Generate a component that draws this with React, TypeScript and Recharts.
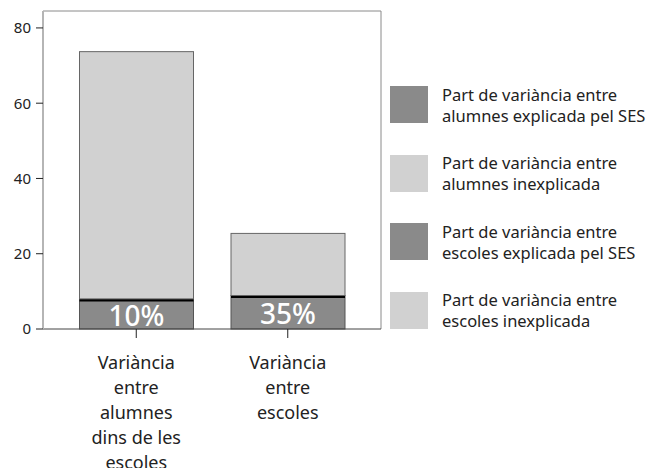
import React from "react";
import { Bar, BarChart, CartesianGrid, LabelList, Legend, XAxis, YAxis } from "recharts";

const DARK = "#8a8a8a";
const LIGHT = "#d1d1d1";
const FONT = "'Noto Sans', sans-serif";

const categories = ["Variància entre alumnes dins de les escoles", "Variància entre escoles"];
const categoryLines = [
  ["Variància", "entre", "alumnes", "dins de les", "escoles"],
  ["Variància", "entre", "escoles"],
];
const alumnesExplained = [8.0, 0];
const alumnesUnexplained = [65.7, 0];
const escolesExplained = [0, 8.9];
const escolesUnexplained = [0, 16.5];
const shareLabels = ["10%", "35%"];
const yTicks = [0, 20, 40, 60, 80];

const seriesNames = [
  "Part de variància entre alumnes explicada pel SES",
  "Part de variància entre alumnes inexplicada",
  "Part de variància entre escoles explicada pel SES",
  "Part de variància entre escoles inexplicada",
];

const data = categories.map((c, i) => ({
  category: c,
  alumExp: alumnesExplained[i],
  alumUnexp: alumnesUnexplained[i],
  escExp: escolesExplained[i],
  escUnexp: escolesUnexplained[i],
  share: shareLabels[i],
}));

// dark segment with the thick black line on top
function ExplainedShape(props: any) {
  const { x, y, width, height, fill } = props;
  if (!height || height <= 0) return <g />;
  return (
    <g>
      <rect x={x} y={y} width={width} height={height} fill={fill} stroke="#555" strokeWidth={1} />
      <line x1={x} x2={x + width} y1={y + 1} y2={y + 1} stroke="#000" strokeWidth={3} />
    </g>
  );
}

function LightShape(props: any) {
  const { x, y, width, height, fill } = props;
  if (!height || height <= 0) return <g />;
  return <rect x={x} y={y} width={width} height={height} fill={fill} stroke="#666" strokeWidth={1} />;
}

function ShareLabel(props: any) {
  const { x, y, width, height, value } = props;
  if (!height || height <= 0) return null;
  return (
    <text
      x={x + width / 2}
      y={y + height / 2 + 1}
      textAnchor="middle"
      dominantBaseline="central"
      fill="#fff"
      fontSize={28}
      fontWeight={500}
      fontFamily={FONT}
    >
      {value}
    </text>
  );
}

function CategoryTick(props: any) {
  const { x, y, index } = props;
  const lines = categoryLines[index] || [];
  return (
    <text x={x} y={y} textAnchor="middle" fill="#222" fontSize={18} fontFamily={FONT}>
      {lines.map((l, i) => (
        <tspan key={i} x={x} dy={i === 0 ? 29 : 25}>
          {l}
        </tspan>
      ))}
    </text>
  );
}

function LegendBox(props: any) {
  const items = props.payload || [];
  return (
    <div style={{ fontFamily: FONT }}>
      {items.map((it: any, i: number) => {
        const name: string = it.value;
        const cut = name.indexOf(" entre ") + 7;
        return (
          <div key={i} style={{ display: "flex", alignItems: "center", height: 37, marginBottom: 31.5 }}>
            <div style={{ width: 38, height: 37, background: it.color, flex: "none" }} />
            <div style={{ marginLeft: 14, fontSize: 16.5, lineHeight: "21px", color: "#222", whiteSpace: "nowrap" }}>
              {name.slice(0, cut).trim()}
              <br />
              {name.slice(cut)}
            </div>
          </div>
        );
      })}
    </div>
  );
}

export default function App() {
  return (
    <div style={{ position: "absolute", left: 0, top: 0, width: 663, height: 468, background: "#fff" }}>
      <BarChart width={663} height={468} data={data} margin={{ top: 11, right: 282, bottom: 0, left: 0 }}>
        {/* top and right frame lines */}
        <CartesianGrid
          stroke="#8a8a8a"
          horizontalCoordinatesGenerator={({ offset }: any) => [offset.top]}
          verticalCoordinatesGenerator={({ offset }: any) => [offset.left + offset.width]}
        />
        <XAxis
          dataKey="category"
          height={139}
          interval={0}
          padding={{ left: 17.5, right: 17.5 }}
          tickSize={9}
          tickLine={{ stroke: "#222" }}
          axisLine={{ stroke: "#444" }}
          tick={<CategoryTick />}
        />
        <YAxis
          width={43}
          domain={[0, 84.5]}
          ticks={yTicks}
          tickSize={7}
          tickMargin={5}
          tickLine={{ stroke: "#222" }}
          axisLine={{ stroke: "#b5b5b5", strokeWidth: 2 }}
          tick={{ fontSize: 15, fill: "#222", fontFamily: FONT }}
        />
        <Legend
          layout="vertical"
          align="center"
          verticalAlign="middle"
          content={<LegendBox />}
          wrapperStyle={{ left: 390, top: 86, width: 273 }}
        />
        <Bar dataKey="alumExp" stackId="s" name={seriesNames[0]} fill={DARK} barSize={114} shape={<ExplainedShape />} isAnimationActive={false}>
          <LabelList dataKey="share" content={<ShareLabel />} />
        </Bar>
        <Bar dataKey="alumUnexp" stackId="s" name={seriesNames[1]} fill={LIGHT} barSize={114} shape={<LightShape />} isAnimationActive={false} />
        <Bar dataKey="escExp" stackId="s" name={seriesNames[2]} fill={DARK} barSize={114} shape={<ExplainedShape />} isAnimationActive={false}>
          <LabelList dataKey="share" content={<ShareLabel />} />
        </Bar>
        <Bar dataKey="escUnexp" stackId="s" name={seriesNames[3]} fill={LIGHT} barSize={114} shape={<LightShape />} isAnimationActive={false} />
      </BarChart>
    </div>
  );
}
